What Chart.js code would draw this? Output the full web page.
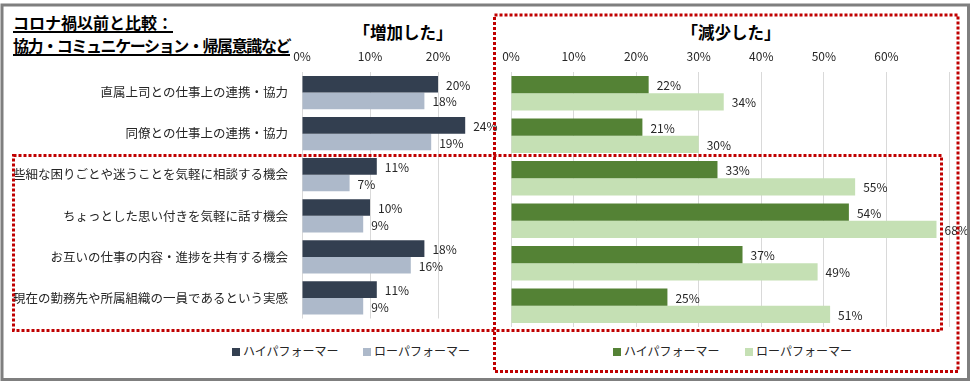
<!DOCTYPE html>
<html>
<head>
<meta charset="utf-8">
<script src="https://cdn.jsdelivr.net/npm/chart.js@4"></script>
<style>
  html, body { margin: 0; padding: 0; background: #fff; }
  body { width: 974px; height: 388px; position: relative; overflow: hidden;
         font-family: "Noto Sans CJK JP", "Noto Sans", sans-serif; color: #000; }
  .abs { position: absolute; }
  .head { left: 13px; font-size: 16px; font-weight: bold; line-height: 18px;
          border-bottom: 2px solid #000; white-space: nowrap; }
  .ttl { top: 20px; font-size: 16.5px; font-weight: bold; line-height: 24px;
         transform: translateX(-50%); white-space: nowrap; }
  .leg { top: 342px; font-size: 12px; line-height: 18px; color: #262626; white-space: nowrap; }
  .leg i { display: inline-block; width: 8px; height: 8px; margin-right: 3px; vertical-align: 0px; }
  canvas { position: absolute; top: 0; }
  svg { position: absolute; left: 0; top: 0; pointer-events: none; }
</style>
</head>
<body>
<div class="abs head" style="top:13px;">コロナ禍以前と比較：</div>
<div class="abs head" style="top:36px; letter-spacing:-1.4px;">協力・コミュニケーション・帰属意識など</div>
<div class="abs ttl" style="left:403px;">「増加した」</div>
<div class="abs ttl" style="left:731px;">「減少した」</div>

<div style="position:absolute;left:0;top:0;width:530px;height:340px;"><canvas id="incCTX"></canvas></div>
<div style="position:absolute;left:490px;top:0;width:484px;height:340px;"><canvas id="decCTX"></canvas></div>

<div class="abs leg" style="left:232px;"><i style="background:#333f50"></i>ハイパフォーマー</div>
<div class="abs leg" style="left:363px;"><i style="background:#adb9ca"></i>ローパフォーマー</div>
<div class="abs leg" style="left:613px;"><i style="background:#548235"></i>ハイパフォーマー</div>
<div class="abs leg" style="left:745px;"><i style="background:#c5e0b4"></i>ローパフォーマー</div>

<svg width="974" height="388">
  <rect x="2" y="5" width="966.5" height="374.5" fill="none" stroke="#7f7f7f" stroke-width="3"/>
  <rect x="494.5" y="15" width="463.5" height="356.5" fill="none" stroke="#c00000" stroke-width="3" stroke-dasharray="3 2"/>
  <rect x="13.5" y="155.5" width="928" height="175" fill="none" stroke="#c00000" stroke-width="3" stroke-dasharray="3 2"/>
</svg>

<script>
const categories = [
  "直属上司との仕事上の連携・協力",
  "同僚との仕事上の連携・協力",
  "些細な困りごとや迷うことを気軽に相談する機会",
  "ちょっとした思い付きを気軽に話す機会",
  "お互いの仕事の内容・進捗を共有する機会",
  "現在の勤務先や所属組織の一員であるという実感",
];
const seriesNames = ["ハイパフォーマー", "ローパフォーマー"];
const increaseHigh = [20, 24, 11, 10, 18, 11];
const increaseLow = [18, 19, 7, 9, 16, 9];
const decreaseHigh = [22, 21, 33, 54, 37, 25];
const decreaseLow = [34, 30, 55, 68, 49, 51];
const increaseTicks = [0, 10, 20];
const decreaseTicks = [0, 10, 20, 30, 40, 50, 60, 70];

const baseFont = '"Noto Sans CJK JP", "Noto Sans", sans-serif';

// draws "xx%" just right of each bar
const barLabels = {
  id: "barLabels",
  afterDatasetsDraw(chart) {
    const ctx = chart.ctx;
    ctx.save();
    ctx.font = "12px " + baseFont;
    ctx.fillStyle = "#262626";
    ctx.textBaseline = "middle";
    ctx.textAlign = "left";
    chart.data.datasets.forEach((ds, i) => {
      chart.getDatasetMeta(i).data.forEach((bar, j) => {
        ctx.fillText(ds.data[j] + "%", bar.x + 8, bar.y + 1);
      });
    });
    ctx.restore();
  },
};

function makeData(high, low, colors) {
  return {
    labels: categories,
    datasets: [
      { label: seriesNames[0], data: high, backgroundColor: colors[0] },
      { label: seriesNames[1], data: low, backgroundColor: colors[1] },
    ],
  };
}

function makeOptions(max, tickList, showLabels) {
  return {
    indexAxis: "y",
    responsive: true,
    maintainAspectRatio: false,
    animation: false,
    datasets: { bar: { categoryPercentage: 0.81, barPercentage: 1 } },
    layout: showLabels
      ? { padding: { left: 0, right: 58, top: 0, bottom: 13 } }
      : { padding: { left: 21, right: 25, top: 0, bottom: 13 } },
    plugins: { legend: { display: false }, tooltip: { enabled: false } },
    scales: {
      x: {
        position: "top",
        min: 0,
        max: max,
        afterFit(scale) { scale.height = 72; },
        afterBuildTicks(scale) {
          scale.ticks = tickList.map((v) => ({ value: v }));
        },
        grid: { color: "#d9d9d9", drawTicks: false },
        border: { display: false },
        ticks: {
          padding: 8,
          maxRotation: 0,
          color: "#262626",
          font: { size: 12, family: baseFont },
          callback: (v) => (v === 70 ? "" : v + "%"),
        },
      },
      y: {
        display: showLabels,
        afterFit(scale) { scale.width = showLabels ? 302 : 0; },
        grid: { display: false, drawTicks: false },
        border: { display: false },
        ticks: {
          padding: 14,
          color: "#262626",
          font: { size: 12.5, family: baseFont },
        },
      },
    },
  };
}

const incCTX = new Chart(document.getElementById("incCTX"), {
  type: "bar",
  data: makeData(increaseHigh, increaseLow, ["#333f50", "#adb9ca"]),
  options: makeOptions(25, increaseTicks, true),
  plugins: [barLabels],
});

const decCTX = new Chart(document.getElementById("decCTX"), {
  type: "bar",
  data: makeData(decreaseHigh, decreaseLow, ["#548235", "#c5e0b4"]),
  options: makeOptions(70, decreaseTicks, false),
  plugins: [barLabels],
});
</script>
</body>
</html>
